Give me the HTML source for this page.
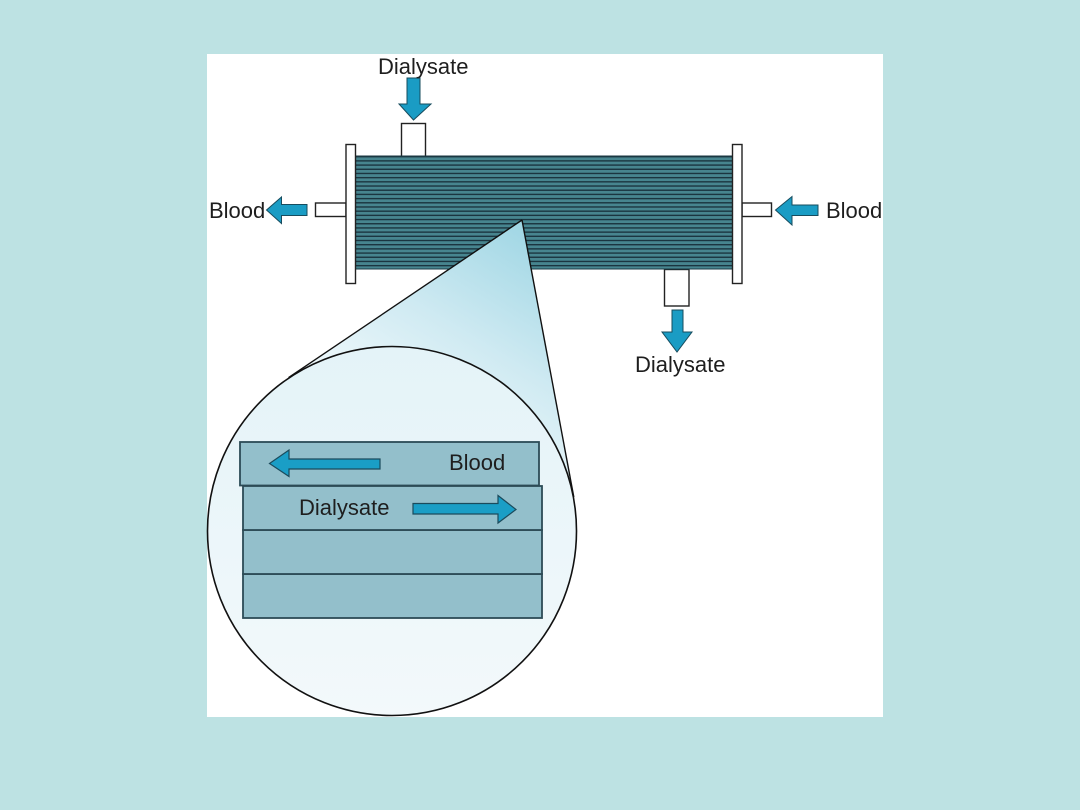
<!DOCTYPE html>
<html><head><meta charset="utf-8"><style>
html,body{margin:0;padding:0;background:#bde2e3;}
svg{display:block}
text{font-family:"Liberation Sans",Arial,sans-serif;font-size:22px;fill:#1e1e1e}
</style></head><body>
<svg width="1080" height="810" viewBox="0 0 1080 810" xmlns="http://www.w3.org/2000/svg">
<defs>
<linearGradient id="cone" x1="522" y1="220" x2="400" y2="420" gradientUnits="userSpaceOnUse">
<stop offset="0" stop-color="#9fd6e4"/>
<stop offset="0.55" stop-color="#cfeaf2"/>
<stop offset="1" stop-color="#eef8fb"/>
</linearGradient>
<linearGradient id="circ" x1="0" y1="0" x2="0" y2="1">
<stop offset="0" stop-color="#e4f3f8"/>
<stop offset="1" stop-color="#f3f9fb"/>
</linearGradient>
<pattern id="stripes" x="0" y="156" width="10" height="4.19" patternUnits="userSpaceOnUse">
<rect x="0" y="0" width="10" height="4.19" fill="#47858f"/>
<rect x="0" y="0" width="10" height="1.4" fill="#1b3540"/>
</pattern>
</defs>
<rect x="0" y="0" width="1080" height="810" fill="#bde2e3"/>
<rect x="207" y="54" width="676" height="663" fill="#ffffff"/>

<!-- ports -->
<rect x="401.5" y="123.5" width="24" height="33" fill="#fff" stroke="#222" stroke-width="1.4"/>
<rect x="664.5" y="269.5" width="24.5" height="36.5" fill="#fff" stroke="#222" stroke-width="1.4"/>
<rect x="315.5" y="203" width="30.5" height="13.5" fill="#fff" stroke="#222" stroke-width="1.4"/>
<rect x="742" y="203" width="29.5" height="13.5" fill="#fff" stroke="#222" stroke-width="1.4"/>

<!-- body -->
<rect x="355.5" y="156" width="377" height="113" fill="url(#stripes)"/>
<rect x="355.5" y="156" width="377" height="113" fill="none" stroke="#1b3a44" stroke-width="1"/>

<!-- plates -->
<rect x="346" y="144.5" width="9.5" height="139" fill="#fff" stroke="#222" stroke-width="1.4"/>
<rect x="732.5" y="144.5" width="9.5" height="139" fill="#fff" stroke="#222" stroke-width="1.4"/>

<!-- arrows -->
<g fill="#1a9cc4" stroke="#174c5e" stroke-width="1">
<polygon points="407,78 420,78 420,104 431,104 413.5,120 399,104 407,104"/>
<polygon points="672,310 683,310 683,332 692,332 677,352 662,332 672,332"/>
<polygon points="307,204.5 281.5,204.5 281.5,197 266.5,210 281.5,223.5 281.5,215.5 307,215.5"/>
<polygon points="818,205 792,205 792,196.5 775.5,210 792,225 792,215.5 818,215.5"/>
</g>

<!-- labels -->
<text x="378" y="74">Dialysate</text>
<text x="209" y="218">Blood</text>
<text x="826" y="218">Blood</text>
<text x="635" y="372">Dialysate</text>

<!-- magnifier cone -->
<polygon points="522,220 288.6,377.6 573.8,497" fill="url(#cone)"/>
<line x1="522" y1="220" x2="288.6" y2="377.6" stroke="#111" stroke-width="1.4"/>
<line x1="522" y1="220" x2="573.8" y2="497" stroke="#111" stroke-width="1.4"/>
<circle cx="392" cy="531" r="184.5" fill="url(#circ)" stroke="#111" stroke-width="1.6"/>

<!-- layers -->
<g fill="#93bfcb" stroke="#2c4b56" stroke-width="1.8">
<rect x="243" y="574" width="299" height="44"/>
<rect x="243" y="530" width="299" height="44"/>
<rect x="243" y="486" width="299" height="44"/>
<rect x="240" y="442" width="299" height="43.5"/>
</g>
<g fill="#1a9ec6" stroke="#1b4b5c" stroke-width="1.2">
<polygon points="380,459 289,459 289,450 269.5,463.5 289,476.5 289,469 380,469"/>
<polygon points="413,503.5 498,503.5 498,495.5 516,509.5 498,523 498,514 413,514"/>
</g>
<text x="449" y="470">Blood</text>
<text x="299" y="515">Dialysate</text>
</svg>
</body></html>
